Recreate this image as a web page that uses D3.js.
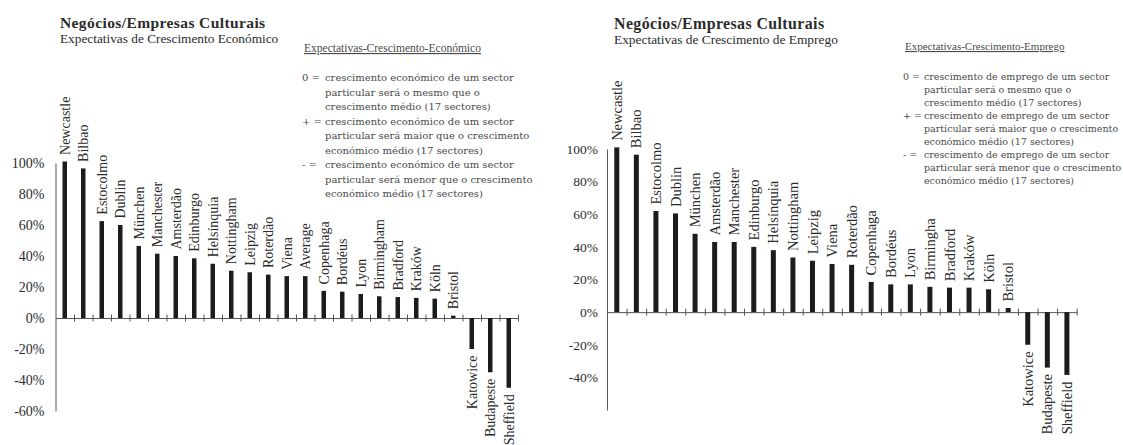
<!DOCTYPE html>
<html>
<head>
<meta charset="utf-8">
<script src="https://cdn.jsdelivr.net/npm/d3@7"></script>
<style>
  body { margin: 0; background: #fff; }
  text { font-family: "Liberation Serif", "Times New Roman", serif; fill: #2b2b2b; }
  .legend text { font-family: "DejaVu Serif", serif; fill: #4a4a4a; }
  .legend .ltitle { font-family: "Liberation Serif", serif; }
  .domain { stroke: #555; }
  .tick line { stroke: #555; }
</style>
</head>
<body>
<div id="chart"></div>
<script>
// ---- data ----
const econCities = ["Newcastle", "Bilbao", "Estocolmo", "Dublin", "München", "Manchester", "Amsterdão",
  "Edinburgo", "Helsínquia", "Nottingham", "Leipzig", "Roterdão", "Viena", "Average", "Copenhaga",
  "Bordéus", "Lyon", "Birmingham", "Bradford", "Kraków", "Köln", "Bristol", "Katowice", "Budapeste", "Sheffield"]
const econValues = [101, 96.5, 62.5, 60, 46.5, 41.5, 40, 38.5, 35, 30.5, 29.5, 28, 27, 27, 17.5,
  17, 15.5, 14, 13.5, 13, 12.5, 1.5, -20, -35, -45]

const empCities = ["Newcastle", "Bilbao", "Estocolmo", "Dublin", "München", "Amsterdão", "Manchester",
  "Edinburgo", "Helsínquia", "Nottingham", "Leipzig", "Viena", "Roterdão", "Copenhaga", "Bordéus",
  "Lyon", "Birmingha", "Bradford", "Kraków", "Köln", "Bristol", "Katowice", "Budapeste", "Sheffield"]
const empValues = [101, 96.5, 62, 60.5, 48, 43, 43, 40, 38, 33.5, 31.5, 29.5, 29, 18.5, 17,
  17, 15.5, 15, 15, 14, 2.5, -20, -34, -38.5]

const econTicks = [100, 80, 60, 40, 20, 0, -20, -40, -60]
const empTicks = [100, 80, 60, 40, 20, 0, -20, -40]

const econTitle = ["Negócios/Empresas Culturais", "Expectativas de Crescimento Económico"]
const empTitle = ["Negócios/Empresas Culturais", "Expectativas de Crescimento de Emprego"]

const econLegendTitle = "Expectativas-Crescimento-Económico"
const econLegend = [
  ["0 =", "crescimento económico de um sector"],
  ["", "particular será o mesmo que o"],
  ["", "crescimento médio (17 sectores)"],
  ["+ =", "crescimento económico de um sector"],
  ["", "particular será maior que o crescimento"],
  ["", "económico  médio (17 sectores)"],
  ["- =", "crescimento económico de um sector"],
  ["", "particular será menor que o crescimento"],
  ["", "económico  médio (17 sectores)"]
]
const empLegendTitle = "Expectativas-Crescimento-Emprego"
const empLegend = [
  ["0 =", "crescimento de emprego de um sector"],
  ["", "particular será o mesmo que o"],
  ["", "crescimento médio (17 sectores)"],
  ["+ =", "crescimento de emprego de um sector"],
  ["", "particular será maior que o crescimento"],
  ["", "económico médio (17 sectores)"],
  ["- =", "crescimento de emprego de um sector"],
  ["", "particular será menor que o crescimento"],
  ["", "económico médio (17 sectores)"]
]

const svg = d3.select("#chart").append("svg")
  .attr("width", 1123)
  .attr("height", 445)

function drawChart(cfg) {
  const g = svg.append("g")

  // scales
  const y = d3.scaleLinear().domain([-60, 100]).range([cfg.yBottom, cfg.yTop])
  const x = d3.scaleBand().domain(cfg.cats).range([cfg.x0, cfg.x1])
  const xEdge = d3.scaleLinear().domain([0, cfg.cats.length]).range([cfg.x0, cfg.x1])

  // y axis
  const yAxis = g.append("g")
    .attr("transform", `translate(${cfg.x0}, 0)`)
    .call(d3.axisLeft(y).tickValues(cfg.ticks).tickSize(0).tickPadding(cfg.tickPad)
      .tickFormat(d => d + "%"))
  yAxis.selectAll("text")
    .style("font-family", "Liberation Serif, serif")
    .style("font-size", cfg.tickFont + "px")
    .attr("fill", "#2b2b2b")

  // x axis at zero, cross ticks between bars
  const xAxis = g.append("g")
    .attr("transform", `translate(0, ${y(0)})`)
    .call(d3.axisBottom(xEdge).tickValues(d3.range(1, cfg.cats.length + 1))
      .tickSizeOuter(0).tickFormat(""))
  xAxis.selectAll(".tick line").attr("y1", -3.5).attr("y2", 3.5)

  // bars
  g.selectAll(".bar")
    .data(cfg.values)
    .enter()
    .append("rect")
    .attr("class", "bar")
    .attr("x", (d, i) => x(cfg.cats[i]) + x.bandwidth() / 2 - cfg.barW / 2)
    .attr("y", d => y(Math.max(0, d)))
    .attr("width", cfg.barW)
    .attr("height", d => Math.abs(y(d) - y(0)))
    .attr("fill", "#1c1c1c")

  // city labels, vertical
  g.selectAll(".city")
    .data(cfg.values)
    .enter()
    .append("text")
    .attr("class", "city")
    .attr("transform", (d, i) => {
      const cx = x(cfg.cats[i]) + x.bandwidth() / 2
      const ty = d >= 0 ? y(d) - cfg.gap : y(d) + cfg.gap
      return `translate(${cx}, ${ty}) rotate(-90)`
    })
    .attr("dy", "0.35em")
    .attr("text-anchor", d => d >= 0 ? "start" : "end")
    .style("font-size", cfg.labelFont + "px")
    .text((d, i) => cfg.cats[i])

  // titles
  g.append("text")
    .attr("x", cfg.titleX).attr("y", cfg.titleY)
    .style("font-size", cfg.titleFont + "px")
    .style("font-weight", "bold")
    .style("letter-spacing", "0.4px")
    .text(cfg.title[0])
  g.append("text")
    .attr("x", cfg.titleX).attr("y", cfg.subY)
    .style("font-size", cfg.subFont + "px")
    .text(cfg.title[1])

  // legend
  const lg = g.append("g").attr("class", "legend")
    .style("font-size", cfg.legFont + "px")
  lg.append("text")
    .attr("class", "ltitle")
    .attr("x", cfg.legTitleX).attr("y", cfg.legTitleY)
    .style("font-size", cfg.legTitleFont + "px")
    .style("text-decoration", "underline")
    .text(cfg.legendTitle)
  cfg.legend.forEach((row, i) => {
    const ly = cfg.legY0 + i * cfg.legStep
    if (row[0]) {
      lg.append("text").attr("x", cfg.legX).attr("y", ly).text(row[0])
    }
    lg.append("text").attr("x", cfg.legX + cfg.legIndent).attr("y", ly).text(row[1])
  })
}

drawChart({
  cats: econCities, values: econValues, ticks: econTicks,
  x0: 55.5, x1: 55.5 + 25 * 18.5, yTop: 163, yBottom: 411,
  barW: 4.5, gap: 6.5, labelFont: 14, tickFont: 14, tickPad: 11,
  title: econTitle, titleX: 60, titleY: 28, subY: 43, titleFont: 15.5, subFont: 13.3,
  legendTitle: econLegendTitle, legTitleX: 304, legTitleY: 52, legTitleFont: 11.5,
  legend: econLegend, legX: 302, legIndent: 23, legY0: 81, legStep: 14.5, legFont: 10
})

drawChart({
  cats: empCities, values: empValues, ticks: empTicks,
  x0: 607, x1: 607 + 24 * 19.57, yTop: 149, yBottom: 410,
  barW: 5, gap: 6.5, labelFont: 14.5, tickFont: 13.5, tickPad: 9,
  title: empTitle, titleX: 614, titleY: 29, subY: 44, titleFont: 15.9, subFont: 13.4,
  legendTitle: empLegendTitle, legTitleX: 905, legTitleY: 50, legTitleFont: 11,
  legend: empLegend, legX: 903, legIndent: 21, legY0: 80, legStep: 13, legFont: 9.5
})
</script>
</body>
</html>
